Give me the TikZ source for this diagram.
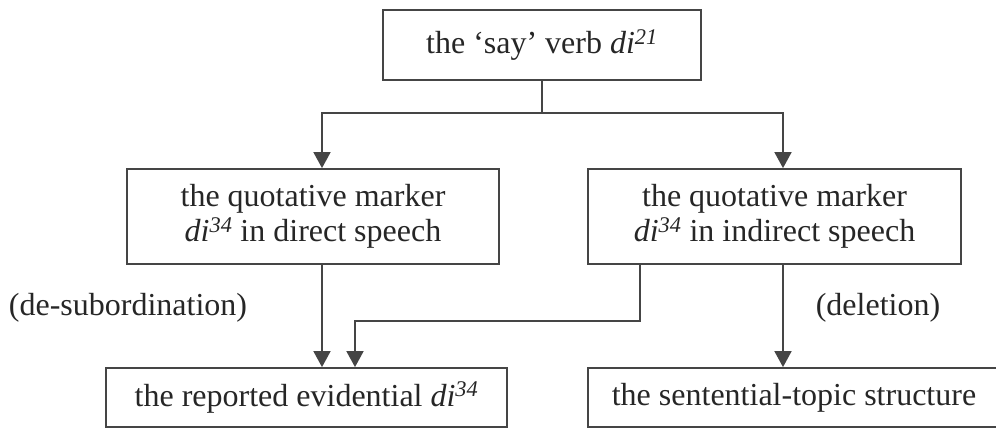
\documentclass[tikz,border=0pt]{standalone}
\usepackage{fontspec}
\setmainfont{Liberation Serif}
\usetikzlibrary{arrows.meta, positioning}
\definecolor{linegray}{HTML}{454545}
\tikzset{
every node/.style={font=\fontsize{32}{35}\selectfont, text=black!85},
box/.style={draw=linegray, line width=1.8pt, inner sep=0pt, align=center},
link/.style={draw=linegray, line width=1.8pt},
arrow/.style={link, -{Triangle[width=17pt,length=16pt]}},
}
\newcommand{\di}[1]{\textit{di}\textsuperscript{\textit{#1}}}

\begin{document}
\begin{tikzpicture}
\useasboundingbox (0,0) rectangle (996pt,-428pt);
    \node[box, minimum width=318pt, minimum height=70pt, xshift=542pt, yshift=-45pt] (say) {the `say' verb \di{21}};
    \node[box, minimum width=372pt, minimum height=95pt, xshift=313pt, yshift=-216.5pt] (direct) {the quotative marker\\\di{34} in direct speech};
    \node[box, minimum width=373pt, minimum height=95pt, xshift=774.5pt, yshift=-216.5pt] (indirect) {the quotative marker\\\di{34} in indirect speech};
    \node[box, minimum width=401pt, minimum height=59pt, xshift=306.5pt, yshift=-397.5pt] (evid) {the reported evidential \di{34}};
    \node[box, minimum width=412pt, minimum height=59pt, xshift=794pt, yshift=-397.5pt] (topic) {the sentential-topic structure};
    \node[xshift=128pt, yshift=-308pt] (desub) {(de-subordination)};
    \node[xshift=878pt, yshift=-308pt] (del) {(deletion)};
    \coordinate (split) at (542pt,-113pt);
    \coordinate (bend) at (640pt,-321pt);
    \draw[link] (say.south) -- (split);
    \draw[arrow] (split) -| ([xshift=9pt]direct.north);
    \draw[arrow] (split) -| ([xshift=8.5pt]indirect.north);
    \draw[arrow] ([xshift=9pt]direct.south) -- ([xshift=15.5pt]evid.north);
    \draw[arrow] ([xshift=-134.5pt]indirect.south) -- (bend) -| ([xshift=48.5pt]evid.north);
    \draw[arrow] ([xshift=8.5pt]indirect.south) -- ([xshift=-11pt]topic.north);
\end{tikzpicture}
\end{document}
